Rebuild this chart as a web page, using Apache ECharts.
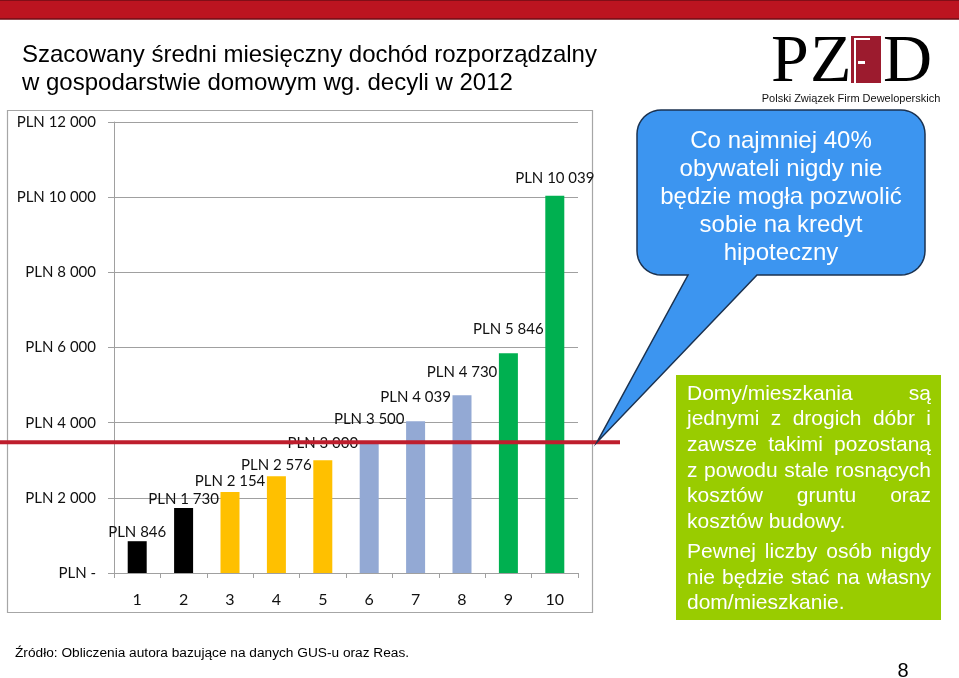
<!DOCTYPE html>
<html>
<head>
<meta charset="utf-8">
<script src="https://cdn.jsdelivr.net/npm/echarts@6/dist/echarts.min.js"></script>
<style>
html,body{margin:0;padding:0;background:#fff;}
#main{width:959px;height:678px;}
</style>
</head>
<body>
<div id="main"></div>
<script>
// ---- data ----
const categories = ['1','2','3','4','5','6','7','8','9','10'];
const incomes = [846, 1730, 2154, 2576, 3000, 3500, 4039, 4730, 5846, 10039];
const barColors = ['#000000','#000000','#FFC000','#FFC000','#FFC000','#93A9D4','#93A9D4','#93A9D4','#00B050','#00B050'];
const yTickLabels = ['PLN -','PLN 2 000','PLN 4 000','PLN 6 000','PLN 8 000','PLN 10 000','PLN 12 000'];
const thresholdValue = 3480;

const titleLines = ['Szacowany średni miesięczny dochód rozporządzalny', 'w gospodarstwie domowym wg. decyli w 2012'];
const bubbleLines = ['Co najmniej 40%', 'obywateli nigdy nie', 'będzie mogła pozwolić', 'sobie na kredyt', 'hipoteczny'];
const noteParagraphs = [
  ['Domy/mieszkania są', 'jednymi z drogich dóbr i', 'zawsze takimi pozostaną', 'z powodu stale rosnących', 'kosztów gruntu oraz', 'kosztów budowy.'],
  ['Pewnej liczby osób nigdy', 'nie będzie stać na własny', 'dom/mieszkanie.']
];
const sourceText = 'Źródło: Obliczenia autora bazujące na danych GUS-u oraz Reas.';
const pageNumber = '8';

// ---- style (label lift per bar, px) ----
const labelLift = [2, 1, 3, 4, 10, 15, 17, 16, 17, 10];

function fmt(v){ return String(v).replace(/\B(?=(\d{3})+(?!\d))/g, ' '); }

const chart = echarts.init(document.getElementById('main'), null, {renderer:'canvas'});
const AX = '#A0A0A0';
const labelFont = 'Lato';

const option = {
  animation: false,
  backgroundColor: '#ffffff',
  grid: {left: 114, right: 381, top: 122, bottom: 105, containLabel: false},
  xAxis: {
    type: 'category',
    data: categories,
    boundaryGap: true,
    axisLine: {show: true, lineStyle: {color: AX, width: 1}},
    axisTick: {show: true, length: 5, lineStyle: {color: AX}},
    axisLabel: {margin: 19, fontFamily: labelFont, fontSize: 16, color: '#111'}
  },
  yAxis: {
    type: 'value',
    min: 0, max: 12000, interval: 2000,
    axisLine: {show: true, lineStyle: {color: AX, width: 1}},
    axisTick: {show: true, length: 6, lineStyle: {color: AX}},
    splitLine: {show: true, lineStyle: {color: AX, width: 1}},
    axisLabel: {
      margin: 18, fontFamily: labelFont, fontSize: 15, color: '#111',
      formatter: v => yTickLabels[Math.round(v / 2000)]
    }
  },
  series: [{
    type: 'bar',
    barWidth: 19,
    z: 2,
    data: incomes.map((v, i) => ({
      value: v,
      itemStyle: {color: barColors[i]},
      label: {distance: labelLift[i]}
    })),
    label: {
      show: true, position: 'top',
      fontFamily: labelFont, fontSize: 15, color: '#111',
      formatter: p => 'PLN ' + fmt(p.value)
    }
  }]
};
chart.setOption(option);

// ---- annotations ----
const ctx = document.createElement('canvas').getContext('2d');
function measure(t, font){ ctx.font = font; return ctx.measureText(t).width; }
function txt(x, y, text, font, fill, align, valign, z){
  return {type:'text', x:x, y:y, z:z || 10, style:{text:text, font:font, fill:fill, textAlign:align, textVerticalAlign:valign, align:align, verticalAlign:valign}};
}

const g = [];
// top red bar
g.push({type:'rect', shape:{x:-1, y:0, width:961, height:19}, style:{fill:'#BC1420', stroke:'#6E0D14', lineWidth:1.5}, z:10});
// chart frame
g.push({type:'rect', shape:{x:7.5, y:110.5, width:585, height:502}, style:{fill:'none', stroke:'#A6A6A6', lineWidth:1.2}, z:1, silent:true});
// title
titleLines.forEach((t, i) => g.push(txt(22, 55 + i*28, t, '24px "Liberation Sans", Arial, sans-serif', '#000', 'left', 'middle')));

// logo
const serif = '68px "Liberation Serif", "Times New Roman", serif';
g.push(txt(771, 97, 'P', serif, '#000', 'left', 'bottom'));
g.push(txt(810, 97, 'Z', serif, '#000', 'left', 'bottom'));
g.push(txt(883, 97, 'D', serif, '#000', 'left', 'bottom'));
// door
g.push({type:'rect', shape:{x:851, y:36, width:30, height:47}, style:{fill:'#9C1B2E'}, z:10});
g.push({type:'polyline', shape:{points:[[855,83],[855,39],[870,39]]}, style:{stroke:'#fff', lineWidth:2, fill:'none'}, z:11});
g.push({type:'rect', shape:{x:858, y:61, width:7, height:3}, style:{fill:'#fff'}, z:11});
g.push(txt(851, 99, 'Polski Związek Firm Deweloperskich', '11px "Liberation Sans", Arial, sans-serif', '#111', 'center', 'middle'));

// red threshold line
const yThr = chart.convertToPixel({yAxisIndex:0}, thresholdValue);
g.push({type:'line', shape:{x1:0, y1:yThr, x2:620, y2:yThr}, style:{stroke:'#BE1E2D', lineWidth:4}, z:20});

// speech bubble (rounded rect + tail as polygon)
const bx0 = 637, by0 = 110, bx1 = 925, by1 = 275, r = 24;
const tipX = 597, tipY = yThr;
function arcPts(cx, cy, a0, a1){
  const pts = [];
  const n = 10;
  for (let k = 0; k <= n; k++){
    const a = a0 + (a1 - a0) * k / n;
    pts.push([cx + r * Math.cos(a), cy + r * Math.sin(a)]);
  }
  return pts;
}
let bp = [];
bp = bp.concat(arcPts(bx0 + r, by0 + r, Math.PI, 1.5 * Math.PI));
bp = bp.concat(arcPts(bx1 - r, by0 + r, 1.5 * Math.PI, 2 * Math.PI));
bp = bp.concat(arcPts(bx1 - r, by1 - r, 0, 0.5 * Math.PI));
bp.push([757, by1], [tipX, tipY], [688, by1]);
bp = bp.concat(arcPts(bx0 + r, by1 - r, 0.5 * Math.PI, Math.PI));
g.push({type:'polygon', shape:{points: bp}, style:{fill:'#3C95F0', stroke:'#1B3250', lineWidth:1.5}, z:21});
bubbleLines.forEach((t, i) => g.push(txt(781, 141 + i*28, t, '24px "Liberation Sans", Arial, sans-serif', '#fff', 'center', 'middle', 22)));

// green note box
g.push({type:'rect', shape:{x:676, y:375, width:265, height:245}, style:{fill:'#99CC00'}, z:10});
const noteFont = '21px "Liberation Sans", Arial, sans-serif';
const tl = 687, tr = 931;
let ly = 394;
noteParagraphs.forEach((para) => {
  para.forEach((line, li) => {
    const words = line.split(' ');
    const last = li === para.length - 1;
    if (last || words.length === 1) {
      g.push(txt(tl, ly, line, noteFont, '#fff', 'left', 'middle', 11));
    } else {
      const ws = words.map(w => measure(w, noteFont));
      const total = ws.reduce((a, b) => a + b, 0);
      const gap = (tr - tl - total) / (words.length - 1);
      let x = tl;
      words.forEach((w, wi) => {
        g.push(txt(x, ly, w, noteFont, '#fff', 'left', 'middle', 11));
        x += ws[wi] + gap;
      });
    }
    ly += 25.6;
  });
  ly += 4.6;
});

// source & page number
g.push(txt(15, 653, sourceText, '13.7px "Liberation Sans", Arial, sans-serif', '#000', 'left', 'middle'));
g.push(txt(903, 671, pageNumber, '20px "Liberation Sans", Arial, sans-serif', '#000', 'center', 'middle'));

chart.setOption({graphic: {elements: g}});
</script>
</body>
</html>
